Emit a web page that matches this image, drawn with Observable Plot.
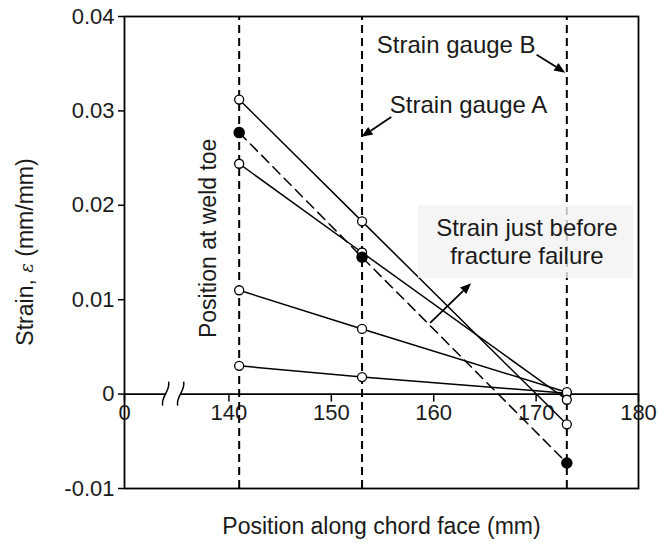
<!DOCTYPE html>
<html>
<head>
<meta charset="utf-8">
<script src="https://cdn.jsdelivr.net/npm/d3@7"></script>
<script src="https://cdn.jsdelivr.net/npm/@observablehq/plot@0.6"></script>
<style>
  body { margin: 0; background: #fff; }
  #chart svg { display: block; }
</style>
</head>
<body>
<div id="chart"></div>
<script>
// Measurement positions along the chord face (mm): weld toe, gauge A, gauge B
const positions = [141, 153, 173];

// Strain (mm/mm) recorded at each position for increasing load levels
const strainLoad1 = [0.0030, 0.0018, 0.0001];
const strainLoad2 = [0.0110, 0.0069, 0.0002];
const strainLoad3 = [0.0244, 0.0150, -0.0006];
const strainLoad4 = [0.0312, 0.0183, -0.0032];

// Strain just before fracture failure
const strainFracture = [0.0277, 0.0145, -0.0073];

// Axis ticks (the first x tick marks the broken origin)
const yTicks = [-0.01, 0, 0.01, 0.02, 0.03, 0.04];
const xTicks = [129.8, 140, 150, 160, 170, 180];
const xTickLabels = ["0", "140", "150", "160", "170", "180"];

// Vertical guide lines at the weld toe and the two strain gauges
const guidePositions = [141, 153, 173];

// Annotation labels and arrows (data coordinates)
const labels = [
  {x: 162.2, y: 0.0369, text: "Strain gauge B"},
  {x: 163.4, y: 0.0306, text: "Strain gauge A"},
  {x: 169.1, y: 0.0176, text: "Strain just before"},
  {x: 169.1, y: 0.0146, text: "fracture failure"}
];
const weldToeLabel = [{x: 138.0, y: 0.0165, text: "Position at weld toe"}];
const arrows = [
  {x1: 170.1, y1: 0.0359, x2: 172.9, y2: 0.0340},
  {x1: 155.9, y1: 0.0293, x2: 153.0, y2: 0.0272},
  {x1: 159.7, y1: 0.0075, x2: 163.7, y2: 0.0117}
];
const noteBox = [{x1: 158.5, x2: 179.5, y1: 0.01225, y2: 0.0200}];
const breakAt = 134.6;

const W = 659, H = 547;
const M = {top: 16, right: 21, bottom: 59, left: 124};
const xDomain = [129.8, 180];
const yDomain = [-0.01, 0.04];
// pixel distance from the bottom of the frame up to strain = 0
const zeroShift = (H - M.top - M.bottom) * (0 - yDomain[0]) / (yDomain[1] - yDomain[0]);

const font = "'Liberation Sans', Arial, sans-serif";

const openRows = [strainLoad1, strainLoad2, strainLoad3, strainLoad4]
  .flatMap((vals, s) => vals.map((v, j) => ({series: s, x: positions[j], y: v})));
const fractureRows = strainFracture.map((v, j) => ({x: positions[j], y: v}));
const xLabelOf = new Map(xTicks.map((t, i) => [t, xTickLabels[i]]));

// Straight arrows with filled triangular heads
function arrowMark(list) {
  return (index, scales) => {
    const g = d3.create("svg:g");
    for (const a of list) {
      const x1 = scales.x(a.x1), y1 = scales.y(a.y1);
      const x2 = scales.x(a.x2), y2 = scales.y(a.y2);
      const ang = Math.atan2(y2 - y1, x2 - x1);
      const L = 11, w = 4.5;
      const bx = x2 - L * Math.cos(ang), by = y2 - L * Math.sin(ang);
      const px = -Math.sin(ang) * w, py = Math.cos(ang) * w;
      g.append("line")
        .attr("x1", x1).attr("y1", y1).attr("x2", bx).attr("y2", by)
        .attr("stroke", "black").attr("stroke-width", 1.8);
      g.append("path")
        .attr("d", `M${x2},${y2}L${bx + px},${by + py}L${bx - px},${by - py}Z`)
        .attr("fill", "black");
    }
    return g.node();
  };
}

// Axis break symbol on the zero line
function breakMark(index, scales) {
  const g = d3.create("svg:g");
  const cx = scales.x(breakAt), cy = scales.y(0);
  g.append("rect")
    .attr("x", cx - 7).attr("y", cy - 3).attr("width", 14).attr("height", 6)
    .attr("fill", "white");
  for (const dx of [-7.5, 7.5]) {
    const x = cx + dx;
    g.append("path")
      .attr("d", `M${x - 3},${cy + 12} C${x - 5},${cy + 3} ${x + 5},${cy - 3} ${x + 3},${cy - 12}`)
      .attr("fill", "none").attr("stroke", "black").attr("stroke-width", 1.5);
  }
  return g.node();
}

// Y axis title with an italic epsilon
function yTitle(index, scales, values, dims) {
  const top = dims ? dims.marginTop : M.top;
  const bottom = dims ? dims.height - dims.marginBottom : H - M.bottom;
  const cy = (top + bottom) / 2;
  const t = d3.create("svg:text")
    .attr("transform", `translate(25,${cy}) rotate(-90)`)
    .attr("text-anchor", "middle").attr("dy", "0.35em")
    .attr("font-size", 23).attr("fill", "#1a1a1a");
  t.append("tspan").text("Strain, ");
  t.append("tspan").attr("font-family", "'DejaVu Serif', serif")
    .attr("font-style", "italic").attr("font-size", 18).text("ε");
  t.append("tspan").text(" (mm/mm)");
  return t.node();
}

const chart = Plot.plot({
  width: W,
  height: H,
  marginTop: M.top,
  marginRight: M.right,
  marginBottom: M.bottom,
  marginLeft: M.left,
  style: {fontFamily: font, fontSize: "22px", color: "#1a1a1a", background: "white", overflow: "visible"},
  x: {domain: xDomain, label: null},
  y: {domain: yDomain, label: null},
  marks: [
    Plot.ruleX(guidePositions, {x: d => d, y1: yDomain[0], y2: yDomain[1],
      stroke: "black", strokeWidth: 2, strokeDasharray: "8,5"}),
    Plot.frame({stroke: "black", strokeWidth: 1.8}),
    Plot.ruleY([0], {stroke: "black", strokeWidth: 1.8}),
    breakMark,
    Plot.axisY(yTicks, {tickSize: 6, tickPadding: 4, label: null,
      tickFormat: d => d === 0 ? "0" : d.toFixed(2), stroke: "black", strokeWidth: 1.5}),
    Plot.axisX(xTicks, {anchor: "bottom", dy: -zeroShift, tickSize: 8, tickPadding: 2,
      label: null, tickFormat: d => xLabelOf.get(d), stroke: "black", strokeWidth: 1.5}),
    Plot.line(openRows, {x: "x", y: "y", z: "series", stroke: "black", strokeWidth: 1.5}),
    Plot.line(fractureRows, {x: "x", y: "y", stroke: "black", strokeWidth: 1.5, strokeDasharray: "10,6"}),
    Plot.dot(openRows, {x: "x", y: "y", r: 4.5, fill: "white", stroke: "black", strokeWidth: 1.3}),
    Plot.dot(fractureRows, {x: "x", y: "y", r: 5, fill: "black", stroke: "black"}),
    Plot.rect(noteBox, {x1: "x1", x2: "x2", y1: "y1", y2: "y2", fill: "#f3f3f3", fillOpacity: 0.8}),
    Plot.text(labels, {x: "x", y: "y", text: "text", fill: "#1a1a1a", textAnchor: "middle", fontSize: 24}),
    Plot.text(weldToeLabel, {x: "x", y: "y", text: "text", fill: "#1a1a1a", rotate: -90, fontSize: 23}),
    arrowMark(arrows),
    Plot.text(["Position along chord face (mm)"], {frameAnchor: "bottom", dy: 45, fill: "#1a1a1a", fontSize: 23}),
    yTitle
  ]
});

document.getElementById("chart").appendChild(chart);
</script>
</body>
</html>
